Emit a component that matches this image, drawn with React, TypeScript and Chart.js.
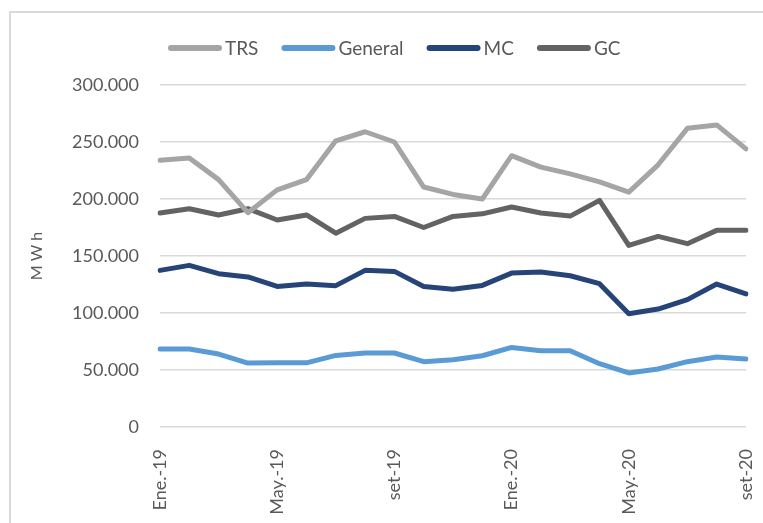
import React, { useEffect, useRef } from "react";
import { Chart, registerables } from "chart.js";
Chart.register(...registerables);

const months = [
  "Ene.-19", "Feb.-19", "Mar.-19", "Abr.-19", "May.-19", "Jun.-19", "Jul.-19", "Ago.-19", "set-19", "oct-19", "nov-19", "dic-19",
  "Ene.-20", "Feb.-20", "Mar.-20", "Abr.-20", "May.-20", "Jun.-20", "Jul.-20", "Ago.-20", "set-20",
];
const seriesNames = ["TRS", "General", "MC", "GC"];
const trs = [234000, 236000, 217000, 188000, 208000, 217000, 251000, 259000, 250000, 210500, 204000, 200000, 238000, 228000, 222000, 215000, 206000, 230000, 262000, 265000, 244000];
const general = [68400, 68400, 64000, 56100, 56300, 56300, 62800, 64900, 64900, 57300, 59000, 62500, 69800, 66900, 66900, 55500, 47400, 50900, 57300, 61400, 59600];
const mc = [137400, 141800, 134500, 131600, 123300, 125400, 124000, 137400, 136500, 123300, 120800, 124200, 135000, 136000, 132700, 125700, 99400, 103500, 111700, 125400, 116700];
const gc = [187700, 191500, 186000, 191500, 181600, 186000, 170000, 183000, 184700, 175000, 184700, 187000, 193000, 187700, 185000, 198800, 159300, 167200, 160800, 172500, 172500];
const yTicks = [0, 50000, 100000, 150000, 200000, 250000, 300000];
const yTitle = "M W h";

const colors = ["#a5a5a5", "#5b9bd5", "#264478", "#636363"];
const FONT = "Lato, 'Open Sans', sans-serif";
const TEXT = "#595959";

const legendPlugin = {
  id: "customLegend",
  afterDraw(chart: any) {
    const ctx = chart.ctx;
    ctx.save();
    ctx.font = `19px ${FONT}`;
    ctx.textBaseline = "middle";
    let x = 168;
    const y = 48;
    chart.data.datasets.forEach((ds: any) => {
      ctx.strokeStyle = ds.borderColor;
      ctx.lineWidth = 6;
      ctx.lineCap = "round";
      ctx.beginPath();
      ctx.moveTo(x + 3, y);
      ctx.lineTo(x + 51, y);
      ctx.stroke();
      ctx.fillStyle = TEXT;
      ctx.fillText(ds.label, x + 57, y + 1);
      x += 57 + ctx.measureText(ds.label).width + 23;
    });
    ctx.restore();
  },
};

export default function App() {
  const ref = useRef<HTMLCanvasElement>(null);
  useEffect(() => {
    const data = [trs, general, mc, gc];
    const chart = new Chart(ref.current!, {
      type: "line",
      data: {
        labels: months,
        datasets: seriesNames.map((n, i) => ({
          label: n,
          data: data[i],
          borderColor: colors[i],
          backgroundColor: colors[i],
          borderWidth: 5,
          pointRadius: 0,
          tension: 0,
          borderCapStyle: "round" as const,
          borderJoinStyle: "round" as const,
          fill: false,
        })),
      },
      options: {
        responsive: false,
        animation: false,
        layout: { padding: { top: 85, right: 17, left: 0, bottom: 0 } },
        plugins: { legend: { display: false }, tooltip: { enabled: false } },
        scales: {
          x: {
            grid: { display: false },
            border: { display: false },
            afterFit: (s: any) => {
              s.height = 96;
              s.paddingLeft = 0;
              s.paddingRight = 0;
            },
            ticks: {
              autoSkip: false,
              minRotation: 90,
              maxRotation: 90,
              padding: 14,
              color: TEXT,
              font: { family: FONT, size: 18 },
              callback: (_v: any, i: number) => (i % 4 === 0 ? months[i] : ""),
            },
          },
          y: {
            min: yTicks[0],
            max: yTicks[yTicks.length - 1],
            afterFit: (s: any) => {
              s.width = 160;
              s.paddingTop = 0;
              s.paddingBottom = 0;
            },
            afterBuildTicks: (s: any) => { s.ticks = yTicks.map((v) => ({ value: v })); },
            grid: { color: "#d9d9d9", lineWidth: 1.5, drawTicks: false },
            border: { display: false },
            ticks: {
              padding: 21,
              color: TEXT,
              font: { family: FONT, size: 18 },
              callback: (v: any) => Number(v).toLocaleString("de-DE"),
            },
            title: {
              display: true,
              text: yTitle,
              color: TEXT,
              font: { family: FONT, size: 16 },
              padding: { top: 27, bottom: 0 },
            },
          },
        },
      },
      plugins: [legendPlugin],
    });
    return () => chart.destroy();
  }, []);
  return (
    <div style={{ position: "fixed", left: 0, top: 0, width: 763, height: 523, overflow: "hidden", background: "#fff" }}>
      <div style={{ position: "absolute", left: 9, top: 11, width: 900, height: 700, border: "2px solid #d9d9d9", boxSizing: "border-box" }} />
      <canvas ref={ref} width={763} height={523} style={{ position: "absolute", left: 0, top: 0 }} />
    </div>
  );
}
